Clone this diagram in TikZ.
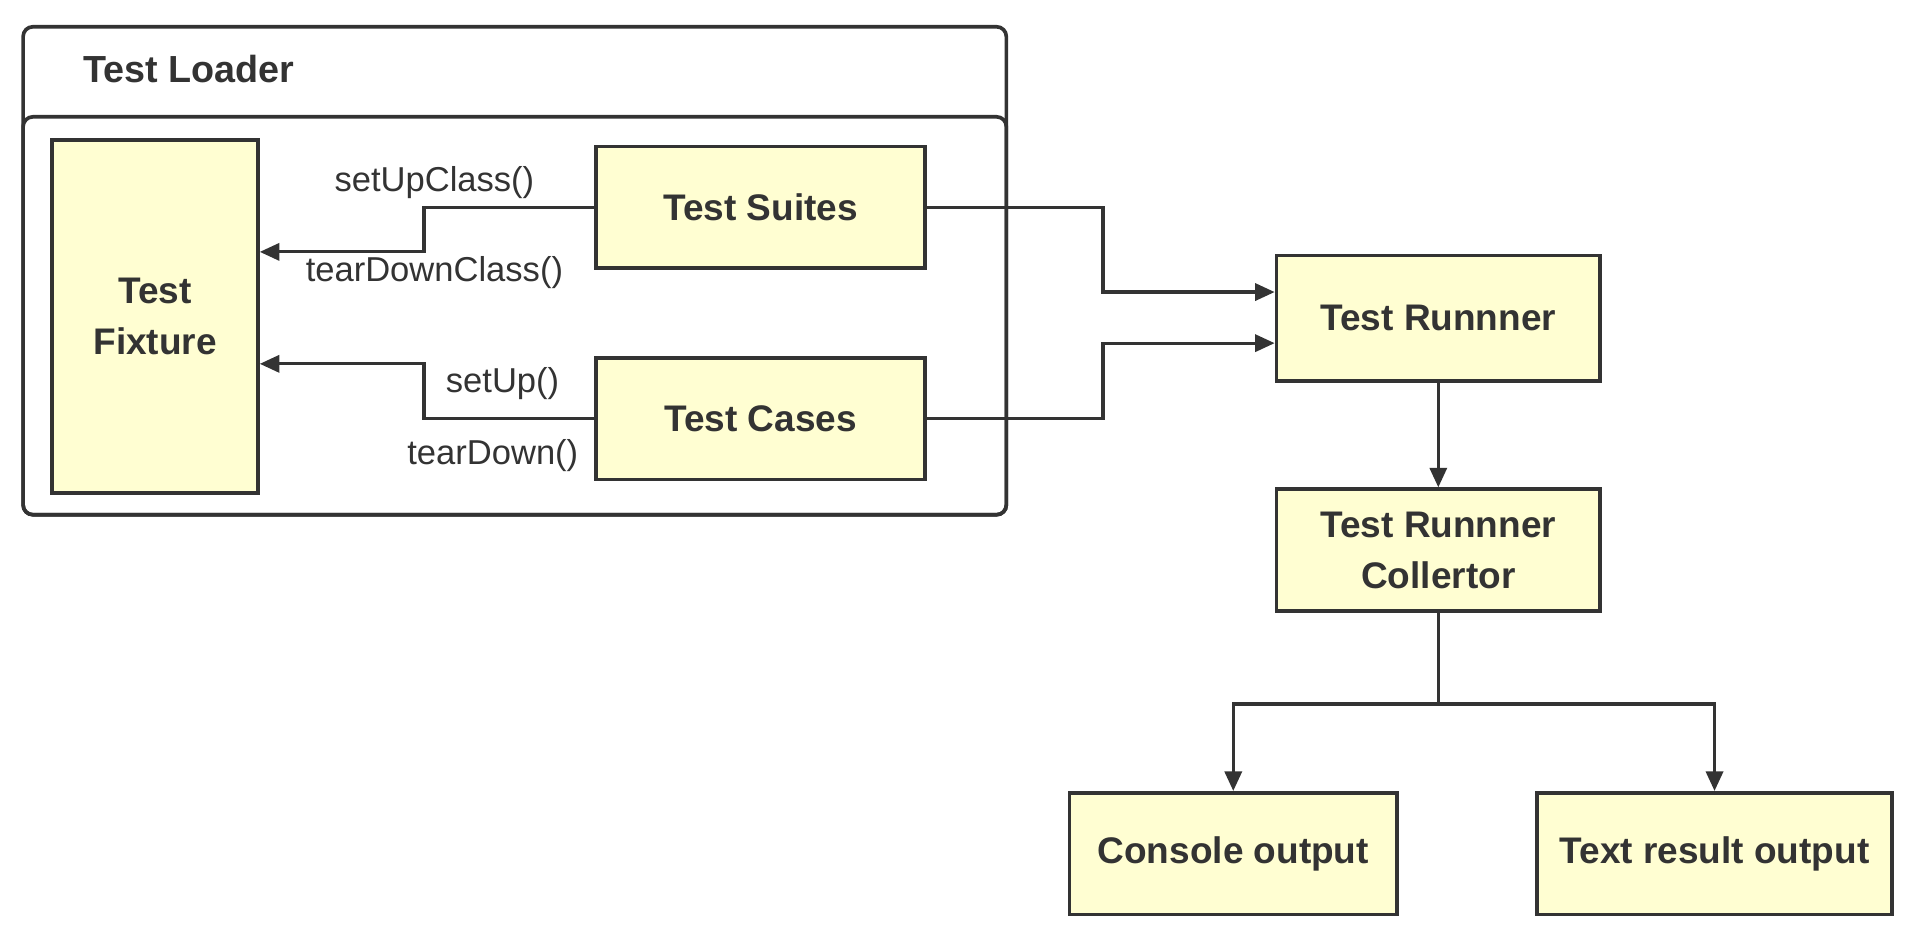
\documentclass[tikz,border=0pt]{standalone}
\usepackage{fontspec}
\setmainfont{Liberation Sans}
\usetikzlibrary{arrows.meta}
\definecolor{boxfill}{HTML}{FFFED2}
\definecolor{ink}{HTML}{333333}
\begin{document}
\begin{tikzpicture}[x=0.5pt,y=-0.5pt,line width=1.3pt,draw=ink,
    box/.style={draw=ink,fill=boxfill,line width=1.5pt,inner sep=0pt,align=center,
      minimum width=135pt,minimum height=50pt,font=\bfseries\fontsize{15.2}{21}\selectfont,text=ink},
    lbl/.style={font=\fontsize{14.2}{16}\selectfont,text=ink,inner sep=0pt},
    arr/.style={draw=ink,-{Triangle[length=8pt,width=7pt]}}]
    \useasboundingbox (0,0) rectangle (1568,771);
    % test loader frame
    \draw[rounded corners=4pt,line width=1.5pt] (19,22) rectangle (827,423);
    \draw[rounded corners=4pt,line width=1.5pt] (19,96) rectangle (827,423);
    \node[anchor=west,font=\bfseries\fontsize{15.5}{17}\selectfont,text=ink,inner sep=0pt] (loader) at (67,57) {Test Loader};
    \node[box,minimum width=84.5pt,minimum height=145pt] (fixture) at (127.5,260) {Test\\Fixture};
    \node[box] (suites) at (625,170.5) {Test Suites};
    \node[box] (cases) at (625,344) {Test Cases};
    \node[box,minimum width=133pt,minimum height=51.5pt] (runner) at (1182,261.5) {Test Runnner};
    \node[box,minimum width=133pt] (collector) at (1182,452) {Test Runnner\\Collertor};
    \node[box,minimum width=134.5pt] (console) at (1013.5,701.5) {Console output};
    \node[box,minimum width=146pt] (textout) at (1409,701.5) {Text result output};
    % labels
    \node[lbl] (setupclass) at (357,150) {setUpClass()};
    \node[lbl] (teardownclass) at (357,224) {tearDownClass()};
    \node[lbl] (setup) at (413,315) {setUp()};
    \node[lbl] (teardown) at (405,374) {tearDown()};
    % connectors
    \path[arr] (suites.west) -- ++(-140,0) |- ([yshift=26.5pt]fixture.east);
    \path[arr] (cases.west) -- ++(-140,0) |- ([yshift=-19.5pt]fixture.east);
    \path[arr] (suites.east) -- ++(145,0) |- ([yshift=10.75pt]runner.west);
    \path[arr] (cases.east) -- ++(145,0) |- ([yshift=-10.25pt]runner.west);
    \path[arr] (runner) -- (collector);
    \path[arr] (collector.south) -- ++(0,75) -| (console.north);
    \path[arr] (collector.south) -- ++(0,75) -| (textout.north);
\end{tikzpicture}
\end{document}
